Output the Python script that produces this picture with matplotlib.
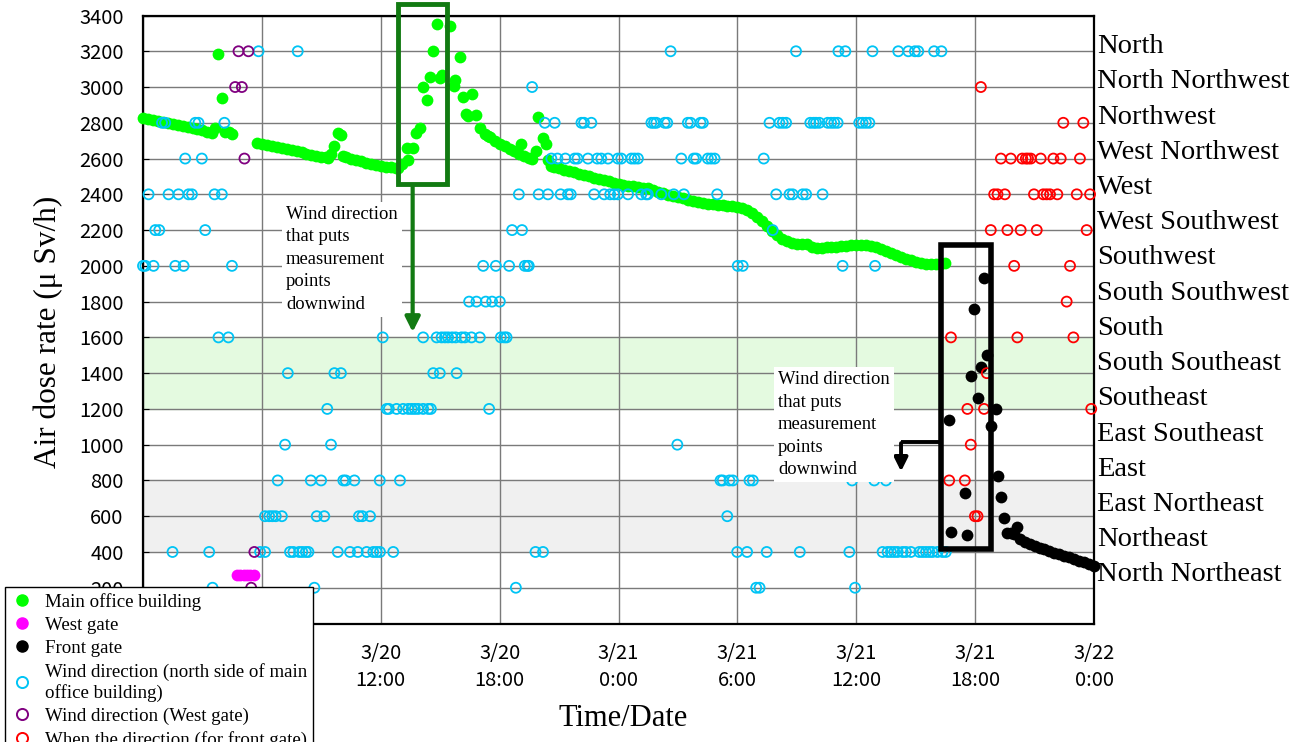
import matplotlib
matplotlib.use('Agg')
import matplotlib.pyplot as plt
from matplotlib.patches import Rectangle
from matplotlib.lines import Line2D
from matplotlib.transforms import blended_transform_factory

# time axis: hours after 3/20 0:00
# main office building dose rate (uSv/h)
office_t = [0, 0.25, 0.5, 0.75, 1.0, 1.25, 1.5, 1.75, 2.0, 2.25, 2.5, 2.75, 3.0, 3.25, 3.5,
            3.64, 3.81, 3.98, 4.15, 4.32, 4.48,
            5.75, 6.0, 6.25, 6.5, 6.75, 7.0, 7.25, 7.5, 7.75, 8.0, 8.25, 8.5, 8.75, 9.0, 9.25,
            9.35, 9.5, 9.66, 9.82, 9.99, 10.11,
            10.25, 10.5, 10.75, 11.0, 11.25, 11.5, 11.75, 12.0, 12.25, 12.5, 12.75,
            12.88, 13.05, 13.31, 13.39, 13.64, 13.76, 13.98, 14.14, 14.31, 14.48, 14.65, 14.82,
            14.98, 15.07, 15.49, 15.69, 15.74, 15.99, 16.16, 16.28, 16.41, 16.63, 16.83,
            17.0, 17.25, 17.42, 17.5, 17.75, 18.0, 18.25, 18.5, 18.75, 19.0, 19.1, 19.25, 19.5,
            19.61, 19.82, 19.94, 20.19, 20.36, 20.44, 20.61,
            20.75, 21.0, 21.25, 21.5, 21.75, 22.0, 22.25, 22.5, 22.75, 23.0, 23.25, 23.5, 23.75,
            24.0, 24.25, 24.5, 24.75, 25.0, 25.25, 25.5, 25.75, 26.0, 26.25, 26.5, 26.75,
            27.0, 27.25, 27.5, 27.75, 28.0, 28.25, 28.5, 28.75, 29.0, 29.25, 29.5, 29.75,
            30.0, 30.25, 30.5, 30.75, 31.0, 31.25, 31.5, 31.75, 32.0, 32.25, 32.5, 32.75,
            33.0, 33.25, 33.5, 33.75, 34.0, 34.25, 34.5, 34.75, 35.0, 35.25, 35.5, 35.75,
            36.0, 36.25, 36.5, 36.75, 37.0, 37.25, 37.5, 37.75, 38.0, 38.25, 38.5, 38.75,
            39.0, 39.25, 39.5, 39.75, 40.0, 40.25, 40.5]
office_v = [2828, 2822, 2816, 2810, 2804, 2799, 2793, 2787, 2781, 2775, 2769, 2763, 2757, 2751, 2745,
            2772, 3186, 2940, 2750, 2746, 2738,
            2688, 2683, 2678, 2673, 2667, 2660, 2653, 2646, 2640, 2634, 2628, 2622, 2617, 2611, 2606,
            2604, 2625, 2669, 2744, 2729, 2613,
            2608, 2600, 2592, 2584, 2577, 2570, 2564, 2559, 2555, 2551, 2548,
            2550, 2570, 2660, 2594, 2660, 2744, 2772, 2999, 2926, 3055, 3204, 3350,
            3051, 3070, 3340, 3004, 3042, 3169, 2943, 2850, 2837, 2962, 2841,
            2772, 2740, 2725, 2718, 2700, 2683, 2670, 2656, 2642, 2628, 2684, 2616, 2603,
            2598, 2641, 2833, 2716, 2684, 2594, 2557,
            2552, 2545, 2538, 2530, 2523, 2515, 2508, 2500, 2493, 2486, 2479, 2472, 2465,
            2455, 2451, 2448, 2445, 2441, 2438, 2433, 2424, 2415, 2406, 2398, 2390,
            2383, 2377, 2370, 2363, 2357, 2352, 2347, 2344, 2341, 2338, 2335, 2332,
            2330, 2324, 2314, 2296, 2275, 2252, 2222, 2195, 2170, 2148, 2137, 2127,
            2122, 2124, 2120, 2108, 2100, 2102, 2104, 2106, 2107, 2109, 2111, 2114,
            2117, 2118, 2116, 2111, 2104, 2095, 2085, 2073, 2061, 2050, 2040, 2030,
            2022, 2016, 2012, 2010, 2010, 2013, 2017]

west_t = [4.75, 4.92, 5.08, 5.25, 5.42, 5.58]
west_v = [272, 272, 271, 271, 270, 270]

front_t = [40.69, 40.78, 41.48, 41.61, 41.78, 41.95, 42.12, 42.29, 42.45, 42.62, 42.79, 43.04,
           43.13, 43.30, 43.46, 43.63, 43.8, 43.95, 44.10, 44.25, 44.5, 44.75, 45.0, 45.25,
           45.5, 45.75, 46.0, 46.25, 46.5, 46.75, 47.0, 47.25, 47.5, 47.75, 48.0]
front_v = [1140, 509, 730, 496, 1386, 1759, 1261, 1433, 1933, 1502, 1106, 1202,
           823, 705, 590, 506, 505, 500, 537, 475, 458, 444, 434, 424,
           414, 404, 396, 388, 379, 370, 361, 352, 342, 332, 322]

# wind direction codes: 3200 = North ... 200 = North Northeast
directions = ['North', 'North Northwest', 'Northwest', 'West Northwest', 'West',
              'West Southwest', 'Southwest', 'South Southwest', 'South', 'South Southeast',
              'Southeast', 'East Southeast', 'East', 'East Northeast', 'Northeast',
              'North Northeast']

wind_office = {
    3200: [5.83, 7.81, 26.63, 32.96, 35.10, 35.45, 36.82, 38.12, 38.63, 38.96, 39.13, 39.93, 40.30],
    3000: [19.64],
    2800: [0.96, 1.12, 2.64, 2.80, 4.11, 20.28, 20.78, 22.13, 22.26, 22.63, 25.66, 25.79, 25.91,
           26.33, 26.46, 27.50, 27.64, 28.14, 28.26, 31.62, 32.12, 32.29, 32.46, 33.68, 33.85,
           33.97, 34.14, 34.56, 34.73, 34.89, 35.06, 36.15, 36.32, 36.49, 36.66],
    2600: [2.13, 2.97, 20.61, 20.92, 21.32, 21.79, 21.93, 22.46, 22.93, 23.13, 23.47, 23.97,
           24.14, 24.65, 24.81, 24.98, 27.17, 27.80, 27.92, 28.51, 28.68, 28.85, 31.33],
    2400: [0.28, 1.29, 1.79, 2.30, 2.47, 3.61, 3.98, 18.97, 19.97, 20.44, 21.08, 21.45, 21.59,
           22.77, 23.28, 23.58, 23.78, 23.97, 24.48, 25.15, 25.40, 25.48, 26.16, 26.79, 27.30,
           28.98, 31.96, 32.63, 32.79, 33.30, 33.47, 34.30],
    2200: [0.62, 0.82, 3.14, 18.63, 19.13, 31.78],
    2000: [0.0, 0.12, 0.53, 1.63, 2.05, 4.49, 17.17, 17.81, 18.48, 19.27, 19.41, 19.47, 30.02,
           30.27, 35.31, 36.95],
    1800: [16.46, 16.83, 17.30, 17.62, 18.01],
    1600: [3.81, 4.31, 12.10, 14.14, 14.82, 15.07, 15.24, 15.40, 15.60, 15.78, 16.08, 16.25,
           16.58, 17.00, 18.06, 18.23, 18.35],
    1400: [7.31, 9.66, 9.99, 14.65, 14.98, 15.83],
    1200: [9.30, 12.30, 12.41, 12.80, 13.13, 13.39, 13.56, 13.72, 13.89, 14.14, 14.40, 14.53, 17.47],
    1000: [7.17, 9.49, 26.97],
    800: [6.80, 8.47, 8.99, 10.11, 10.23, 10.67, 11.95, 12.97, 29.15, 29.26, 29.60, 29.77, 30.61,
          30.78, 35.79, 36.91, 37.50],
    600: [6.16, 6.37, 6.53, 6.70, 7.01, 8.77, 9.15, 10.90, 11.07, 11.46, 29.49],
    400: [1.49, 3.34, 5.91, 6.16, 7.42, 7.59, 7.88, 8.04, 8.22, 8.35, 9.83, 10.45, 10.84, 11.29,
          11.62, 11.79, 11.96, 12.63, 19.81, 20.19, 29.99, 30.49, 31.48, 33.15, 35.65, 37.33, 37.58,
          37.75, 37.92, 38.09, 38.34, 38.51, 38.76, 39.18, 39.35, 39.52, 39.69, 39.85, 40.10,
          40.35, 40.52],
    200: [3.51, 8.65, 18.82, 30.95, 31.12, 35.94],
}

wind_west_t = [4.65, 4.82, 4.99, 5.12, 5.32, 5.46, 5.62]
wind_west_v = [3000, 3200, 3000, 2600, 3200, 200, 400]

wind_front = {
    3000: [42.29],
    2800: [46.45, 47.46],
    2600: [43.30, 43.80, 44.38, 44.56, 44.67, 44.81, 45.31, 45.95, 46.32, 47.29],
    2400: [42.96, 43.13, 43.50, 44.97, 45.44, 45.61, 45.78, 46.15, 47.13, 47.80],
    2200: [42.79, 43.63, 44.30, 45.11, 47.63],
    2000: [43.97, 46.79],
    1800: [46.62],
    1600: [40.78, 44.13, 46.96],
    1400: [42.59],
    1200: [41.61, 42.45, 47.86],
    1000: [41.78],
    800: [40.69, 41.48],
    600: [41.99, 42.12],
}

# the first two time labels and the 0 tick sit behind the legend in the original
tick_hours = [0, 6, 12, 18, 24, 30, 36, 42, 48]
tick_labels = ['', '', '3/20\n12:00', '3/20\n18:00', '3/21\n0:00',
               '3/21\n6:00', '3/21\n12:00', '3/21\n18:00', '3/22\n0:00']
y_ticks = list(range(0, 3401, 200))
y_labels = [''] + [str(v) for v in y_ticks[1:]]

annotation = 'Wind direction\nthat puts\nmeasurement\npoints\ndownwind'

SERIF = ['Liberation Serif', 'DejaVu Serif']
SANS = ['Noto Sans CJK JP', 'DejaVu Sans']


def flatten(d):
    xs, ys = [], []
    for code, hours in d.items():
        xs += hours
        ys += [code] * len(hours)
    return xs, ys


def main():
    fig = plt.figure(figsize=(13.01, 7.42), dpi=100)
    ax = fig.add_axes([143 / 1301, 1 - 623.5 / 742, 951 / 1301, 608 / 742])

    ax.set_xlim(0, 48)
    ax.set_ylim(0, 3400)

    # shaded bands
    ax.axhspan(1200, 1600, color='#e4fae0', zorder=0)
    ax.axhspan(400, 800, color='#f0f0f0', zorder=0)

    ax.set_xticks(tick_hours)
    ax.set_xticklabels(tick_labels, family=SANS, fontsize=14.5, linespacing=1.35)
    ax.set_yticks(y_ticks)
    ax.set_yticklabels(y_labels, family=SANS, fontsize=14.5)
    ax.tick_params(axis='x', length=0, pad=14)
    ax.tick_params(axis='y', direction='in', length=4, pad=14)
    ax.grid(True, color='#7a7a7a', lw=1.0, zorder=1)
    ax.set_axisbelow(True)
    for s in ax.spines.values():
        s.set_linewidth(1.6)

    ms = 72
    ax.scatter(office_t, office_v, s=ms, color='#00ff00', lw=0, zorder=3, clip_on=False)
    ax.scatter(west_t, west_v, s=ms, color='#ff00ff', lw=0, zorder=3, clip_on=False)
    ax.scatter(front_t, front_v, s=ms, color='black', lw=0, zorder=3, clip_on=False)

    wx, wy = flatten(wind_office)
    ax.scatter(wx, wy, s=52, facecolors='none', edgecolors='#00c4f5', lw=1.3, zorder=4, clip_on=False)
    ax.scatter(wind_west_t, wind_west_v, s=52, facecolors='none', edgecolors='#800080', lw=1.3,
               zorder=4, clip_on=False)
    fx, fy = flatten(wind_front)
    ax.scatter(fx, fy, s=52, facecolors='none', edgecolors='#ff0000', lw=1.3, zorder=4, clip_on=False)

    # highlight boxes and arrows
    ax.add_patch(Rectangle((12.88, 2458), 15.35 - 12.88, 3467 - 2458, fill=False,
                           edgecolor='#127a12', lw=3.5, zorder=5, clip_on=False))
    ax.annotate('', xy=(13.61, 1614), xytext=(13.61, 2458),
                arrowprops=dict(arrowstyle='-|>', color='#127a12', lw=3, mutation_scale=22),
                zorder=5)
    ax.add_patch(Rectangle((40.30, 419), 42.79 - 40.30, 2114 - 419, fill=False,
                           edgecolor='black', lw=4, zorder=5))
    ax.plot([40.30, 38.26], [1016, 1016], color='black', lw=2.8, zorder=5, solid_capstyle='butt')
    ax.annotate('', xy=(38.26, 835), xytext=(38.26, 1024),
                arrowprops=dict(arrowstyle='-|>', color='black', lw=2.8, mutation_scale=20),
                zorder=5)

    box = dict(facecolor='white', edgecolor='none', pad=3)
    ax.text(7.22, 2335, annotation, family=SERIF, fontsize=13.4, va='top', ha='left',
            linespacing=1.42, bbox=box, zorder=6)
    ax.text(32.05, 1410, annotation, family=SERIF, fontsize=13.4, va='top', ha='left',
            linespacing=1.42, bbox=box, zorder=6)

    # wind direction names on the right
    trans = blended_transform_factory(ax.transAxes, ax.transData)
    for i, name in enumerate(directions):
        ax.text(1.003, 3190 - i * 197, name, transform=trans, family=SERIF, fontsize=20.5,
                va='baseline', ha='left')

    fig.text(48 / 1301, 1 - 332 / 742, 'Air dose rate (μ Sv/h)', rotation=90, family=SERIF,
             fontsize=22.5, ha='center', va='center')
    fig.text(623 / 1301, 1 - 718 / 742, 'Time/Date', family=SERIF, fontsize=22,
             ha='center', va='center')

    handles = [
        Line2D([], [], ls='none', marker='o', ms=8, color='#00ff00'),
        Line2D([], [], ls='none', marker='o', ms=8, color='#ff00ff'),
        Line2D([], [], ls='none', marker='o', ms=8, color='black'),
        Line2D([], [], ls='none', marker='o', ms=8, mfc='none', mec='#00c4f5', mew=1.4),
        Line2D([], [], ls='none', marker='o', ms=8, mfc='none', mec='#800080', mew=1.4),
        Line2D([], [], ls='none', marker='o', ms=8, mfc='none', mec='#ff0000', mew=1.4),
    ]
    labels = ['Main office building', 'West gate', 'Front gate',
              'Wind direction (north side of main\noffice building)',
              'Wind direction (West gate)', 'When the direction (for front gate)']
    leg = fig.legend(handles, labels, loc='upper left', bbox_to_anchor=(5 / 1301, 1 - 587 / 742),
                     prop={'family': SERIF, 'size': 13.6}, frameon=True, fancybox=False,
                     framealpha=1, edgecolor='black', borderpad=0.3, labelspacing=0.32,
                     handlelength=1.2, handletextpad=0.6, borderaxespad=0)
    leg.get_frame().set_linewidth(1.0)
    leg.set_zorder(10)

    fig.savefig('out.png', dpi=100)
    plt.close(fig)


if __name__ == '__main__':
    main()
